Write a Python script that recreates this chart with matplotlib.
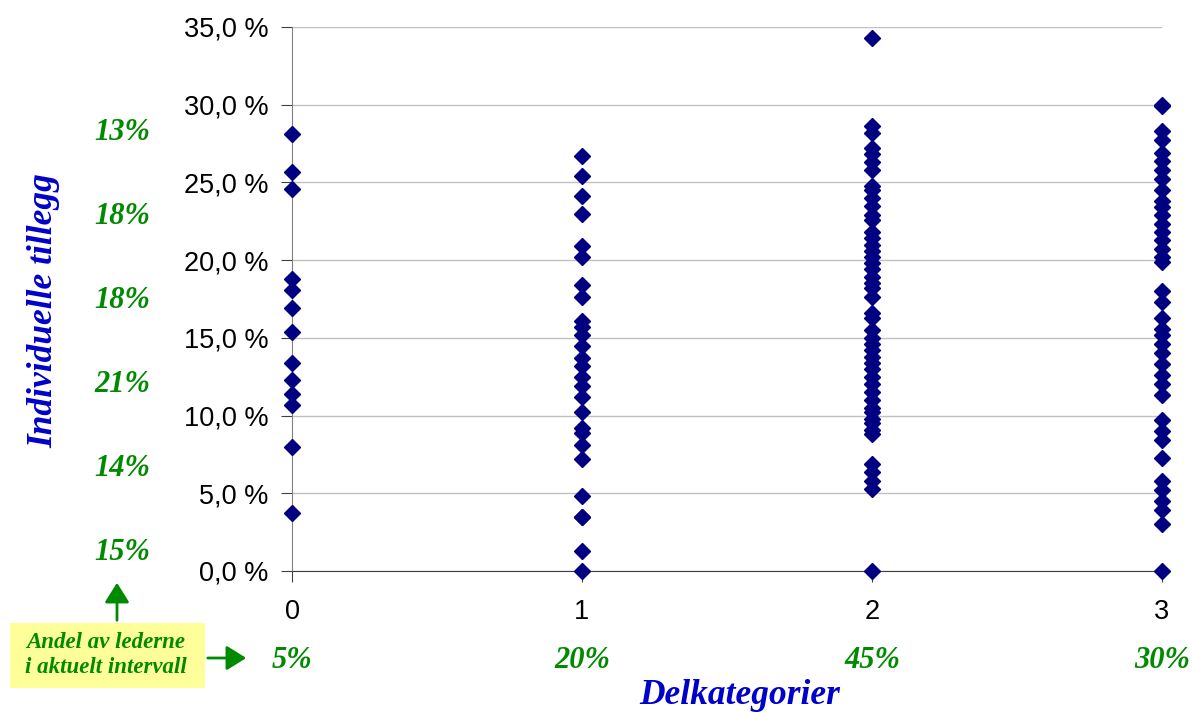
import matplotlib
matplotlib.use("Agg")
import matplotlib.pyplot as plt
from matplotlib.patches import Rectangle, FancyArrowPatch
from matplotlib.ticker import FuncFormatter

# Data
categories = [0, 1, 2, 3]
cat0 = [28.1, 25.7, 24.6, 18.8, 18.1, 16.9, 15.4, 13.4, 12.3, 11.4, 10.7, 8.0, 3.7]
cat1 = [26.7, 25.4, 24.1, 23.0, 20.9, 20.2, 18.4, 17.6, 16.1, 15.7, 15.2, 14.5, 13.7,
        13.2, 12.5, 11.9, 11.2, 10.2, 9.2, 8.9, 8.1, 7.2, 4.8, 3.5, 3.5, 1.3, 0.0]
cat2 = [34.3, 28.6, 28.2, 27.2, 26.8, 26.3, 25.8, 24.8, 24.5, 24.0, 23.5, 22.9, 22.6,
        21.8, 21.4, 21.0, 20.6, 20.2, 19.8, 19.4, 18.9, 18.5, 18.2, 17.6, 16.6, 16.3,
        15.5, 15.0, 14.6, 14.2, 13.8, 13.4, 13.0, 12.5, 12.0, 11.5, 11.0, 10.5, 10.2,
        9.8, 9.5, 9.1, 8.8, 6.9, 6.4, 5.8, 5.3, 0.0]
cat3 = [30.0, 29.9, 28.3, 27.7, 26.9, 26.4, 25.8, 25.2, 24.5, 23.8, 23.4, 22.9, 22.3,
        21.8, 21.3, 20.7, 20.2, 19.9, 18.0, 17.3, 16.3, 15.6, 15.2, 14.6, 14.0, 13.3,
        12.6, 12.0, 11.3, 9.7, 9.0, 8.4, 7.3, 5.8, 5.2, 4.5, 3.9, 3.0, 0.0]
series = [cat0, cat1, cat2, cat3]
interval_shares = ["13%", "18%", "18%", "21%", "14%", "15%"]
category_shares = ["5%", "20%", "45%", "30%"]
y_ticks = [0, 5, 10, 15, 20, 25, 30, 35]

green = "#008a00"
blue = "#0000cc"
navy = "#000080"
serif = ["Liberation Serif", "DejaVu Serif"]
sans = ["Liberation Sans", "DejaVu Sans"]

fig = plt.figure(figsize=(11.92, 7.13), dpi=100)
ax = fig.add_axes([292/1192, 1 - 571/713, (1162-292)/1192, (571-27)/713])

for c, vals in zip(categories, series):
    ax.plot([c]*len(vals), vals, linestyle="none", marker="D", color=navy,
            markersize=8.5, clip_on=False, zorder=3)

ax.set_xlim(0, 3)
ax.set_ylim(0, 35)
ax.set_xticks(categories)
ax.set_yticks(y_ticks)
ax.yaxis.set_major_formatter(FuncFormatter(lambda v, p: f"{v:.1f} %".replace(".", ",")))
ax.grid(axis="y", color="#c0c0c0", linewidth=1)
ax.set_axisbelow(True)
for s in ["top", "right"]:
    ax.spines[s].set_visible(False)
ax.spines["left"].set_color("#808080")
ax.spines["bottom"].set_color("#404040")
ax.tick_params(axis="y", labelsize=19.5, length=8, color="#404040", pad=9)
ax.tick_params(axis="x", labelsize=19.5, length=8, color="#404040", pad=12)
for lab in ax.get_xticklabels() + ax.get_yticklabels():
    lab.set_family(sans)

# Green interval share labels on the left
ys = [133, 217, 300, 384, 468, 552]
for y, t in zip(ys, interval_shares):
    fig.text(122/1192, 1 - y/713, t, ha="center", va="center", color=green,
             fontsize=22, fontweight="bold", fontstyle="italic", family=serif)

# Category share labels at bottom
for c, t in zip(categories, category_shares):
    x_disp = ax.transData.transform((c, 0))[0]
    fig.text(x_disp/1192, 1 - 660/713, t, ha="center", va="center", color=green,
             fontsize=22, fontweight="bold", fontstyle="italic", family=serif)

# Axis titles
fig.text(44/1192, 1 - 311/713, "Individuelle tillegg", rotation=90, ha="center",
         va="center", color=blue, fontsize=25.5, fontweight="bold",
         fontstyle="italic", family=serif)
fig.text(740/1192, 1 - 695/713, "Delkategorier", ha="center", va="center",
         color=blue, fontsize=25.5, fontweight="bold", fontstyle="italic", family=serif)

# Yellow note box
box = Rectangle((10/1192, 1 - 688/713), 195/1192, 65/713, transform=fig.transFigure,
                facecolor="#ffff99", edgecolor="none")
fig.patches.append(box)
fig.text(106/1192, 1 - 655/713, "Andel av lederne\ni aktuelt intervall", ha="center",
         va="center", color=green, fontsize=16.5, fontweight="bold",
         fontstyle="italic", family=serif, linespacing=1.3)

# Arrows
fig.patches.append(FancyArrowPatch(
    (117/1192, 1 - 623/713), (117/1192, 1 - 580/713), transform=fig.transFigure,
    arrowstyle="-|>,head_length=8,head_width=5", color=green, linewidth=2,
    mutation_scale=1.5))
fig.patches.append(FancyArrowPatch(
    (205/1192, 1 - 658/713), (249/1192, 1 - 658/713), transform=fig.transFigure,
    arrowstyle="-|>,head_length=8,head_width=5", color=green, linewidth=2,
    mutation_scale=1.5))

fig.savefig("out.png", dpi=100)
